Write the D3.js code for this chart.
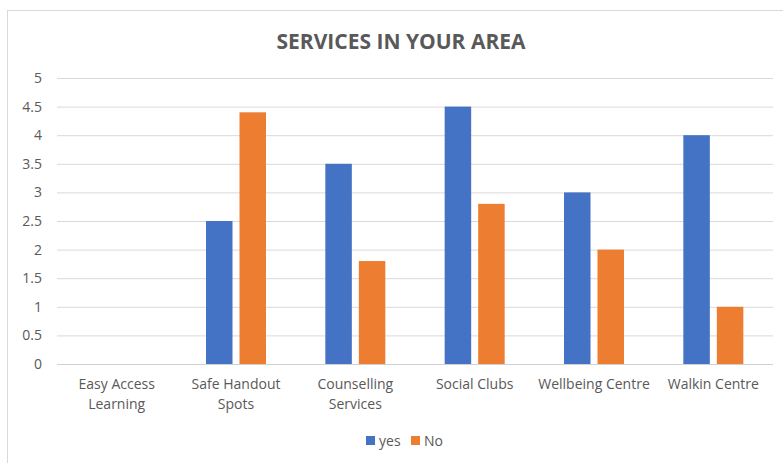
<!DOCTYPE html>
<html><head><meta charset="utf-8">
<script src="https://cdn.jsdelivr.net/npm/d3@7"></script>
<style>html,body{margin:0;padding:0;background:#fff;}</style>
</head><body>
<svg id="chart" width="783" height="463"></svg>
<script>
const title = "SERVICES IN YOUR AREA";
const categories = ["Easy Access Learning", "Safe Handout Spots", "Counselling Services", "Social Clubs", "Wellbeing Centre", "Walkin Centre"];
const seriesNames = ["yes", "No"];
const yesValues = [0, 2.5, 3.5, 4.5, 3, 4];
const noValues = [0, 4.4, 1.8, 2.8, 2, 1];
const yTicks = [0, 0.5, 1, 1.5, 2, 2.5, 3, 3.5, 4, 4.5, 5];
const colors = ["#4472C4", "#ED7D31"];

const svg = d3.select("#chart");
const font = "'Open Sans', sans-serif";
const textColor = "#595959";

svg.append("rect").attr("x", 7.5).attr("y", 10.5).attr("width", 800).attr("height", 470)
  .attr("fill", "#fff").attr("stroke", "#d9d9d9");

const pLeft = 57, pRight = 773, pTop = 78, pBottom = 364;
const x = d3.scaleBand().domain(categories).range([pLeft, pRight]);
const y = d3.scaleLinear().domain([0, 5]).range([pBottom, pTop]);

svg.append("text").attr("x", 401).attr("y", 49).attr("text-anchor", "middle")
  .attr("font-family", font).attr("font-weight", "bold").attr("font-size", 21)
  .attr("fill", textColor).text(title);

// gridlines
const yAxis = d3.axisLeft(y).tickValues(yTicks).tickSize(-(pRight - pLeft)).tickPadding(15)
  .tickFormat(d => String(d));
const gy = svg.append("g").attr("transform", `translate(${pLeft},0)`).call(yAxis);
gy.select(".domain").remove();
gy.selectAll(".tick line").attr("stroke", "#d9d9d9").attr("stroke-width", 1);
gy.selectAll(".tick text").attr("font-family", font).attr("font-size", 14).attr("fill", textColor);
gy.selectAll(".tick").filter(d => d === 0).select("line").attr("stroke", "#d0d0d0");

// bars
const barW = 26.5, gap = 7;
const series = [yesValues, noValues];
series.forEach((vals, si) => {
  svg.append("g").selectAll("rect").data(vals).join("rect")
    .attr("x", (d, i) => x(categories[i]) + x.bandwidth() / 2 + (si === 0 ? -gap / 2 - barW : gap / 2))
    .attr("width", barW)
    .attr("y", d => y(d))
    .attr("height", d => y(0) - y(d))
    .attr("fill", colors[si]);
});

// x axis labels
const xAxis = d3.axisBottom(x).tickSize(0).tickPadding(15);
const gx = svg.append("g").attr("transform", `translate(0,${pBottom})`).call(xAxis);
gx.select(".domain").remove();
gx.selectAll(".tick text").attr("font-family", font).attr("font-size", 14).attr("fill", textColor)
  .each(function(d) {
    const t = d3.select(this);
    const maxW = x.bandwidth() - 2;
    if (this.getComputedTextLength() <= maxW) return;
    const words = d.split(" ");
    t.text(null);
    let lines = [], line = [];
    const tmp = t.append("tspan");
    words.forEach(w => {
      line.push(w);
      tmp.text(line.join(" "));
      if (tmp.node().getComputedTextLength() > maxW - 10 && line.length > 1) {
        line.pop(); lines.push(line.join(" ")); line = [w];
      }
    });
    lines.push(line.join(" "));
    tmp.remove();
    const dy = t.attr("dy");
    lines.forEach((l, i) => {
      t.append("tspan").attr("x", 0).attr("dy", i === 0 ? dy : "1.45em").text(l);
    });
  });

// legend
const legend = svg.append("g");
const legendX = [366, 411];
seriesNames.forEach((n, i) => {
  legend.append("rect").attr("x", legendX[i]).attr("y", 436).attr("width", 9).attr("height", 9).attr("fill", colors[i]);
  legend.append("text").attr("x", legendX[i] + 13).attr("y", 446).attr("font-family", font)
    .attr("font-size", 14).attr("fill", textColor).text(n);
});
</script>
</body></html>
